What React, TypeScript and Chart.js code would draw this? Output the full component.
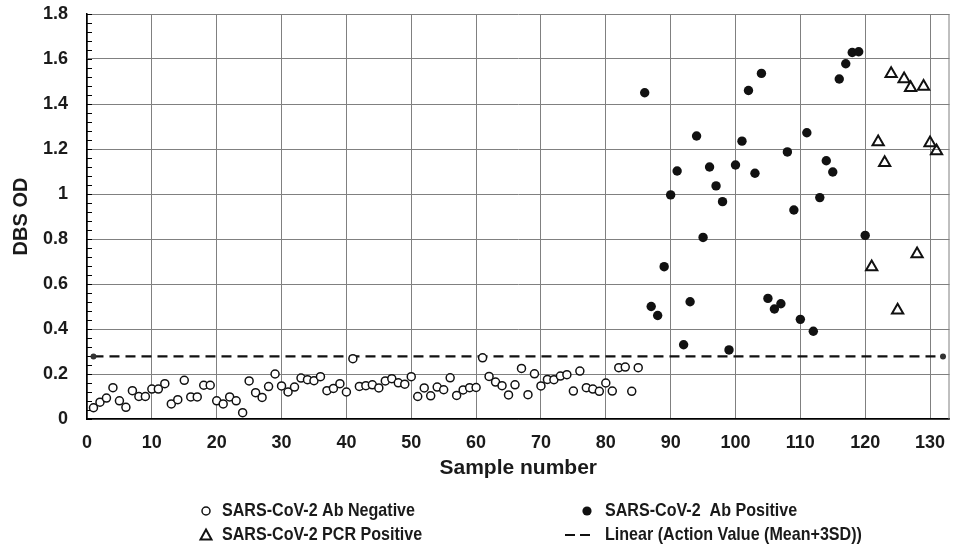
import React, { useEffect, useRef } from 'react';
import { Chart, registerables } from 'chart.js';
Chart.register(...registerables);

// Sample numbers start at these values (index-based, one sample per step)
const NEG_START = 1;
const POS_START = 86;
const PCR_START = 121;

const abNegative = [
  0.05, 0.075, 0.093, 0.139, 0.081, 0.052, 0.126, 0.1, 0.1, 0.133,
  0.133, 0.157, 0.067, 0.086, 0.172, 0.098, 0.098, 0.15, 0.15, 0.081,
  0.067, 0.098, 0.081, 0.028, 0.169, 0.117, 0.096, 0.144, 0.2, 0.147,
  0.12, 0.142, 0.182, 0.175, 0.17, 0.188, 0.126, 0.136, 0.157, 0.12,
  0.268, 0.145, 0.148, 0.152, 0.138, 0.169, 0.179, 0.161, 0.155, 0.188,
  0.1, 0.138, 0.103, 0.142, 0.13, 0.183, 0.105, 0.129, 0.139, 0.14,
  0.272, 0.189, 0.164, 0.148, 0.107, 0.152, 0.225, 0.108, 0.201, 0.147,
  0.176, 0.175, 0.191, 0.197, 0.124, 0.213, 0.139, 0.133, 0.123, 0.16,
  0.124, 0.228, 0.231, 0.123, 0.228,
];

const abPositive = [
  1.45, 0.5, 0.46, 0.677, 0.996, 1.102, 0.33, 0.521, 1.258, 0.807,
  1.12, 1.036, 0.966, 0.307, 1.129, 1.235, 1.46, 1.092, 1.536, 0.536,
  0.489, 0.512, 1.187, 0.929, 0.443, 1.272, 0.39, 0.984, 1.148, 1.098,
  1.511, 1.579, 1.629, 1.632, 0.816,
];

const pcrPositive = [
  0.676, 1.231, 1.139, 1.535, 0.483, 1.511, 1.472, 0.733, 1.478, 1.227, 1.191,
];

const actionX = [1, 132];
const actionY = [0.278, 0.278];

const labels = [
  'SARS-CoV-2 Ab Negative',
  'SARS-CoV-2  Ab Positive',
  'SARS-CoV-2 PCR Positive',
  'Linear (Action Value (Mean+3SD))',
];

const xTickValues = [0, 10, 20, 30, 40, 50, 60, 70, 80, 90, 100, 110, 120, 130];

const TEXT = '#1a1a1a';
const GRID = '#808080';
const FONT = "'Liberation Sans', Arial, sans-serif";
const LEGEND_FONT = "bold 19px 'Liberation Sans', Arial, sans-serif";

function toPoints(start: number, vals: number[]) {
  return vals.map((v, i) => ({ x: start + i, y: v }));
}

const extrasPlugin = {
  id: 'extras',
  beforeDatasetsDraw(chart: any) {
    const { ctx, chartArea, scales } = chart;
    ctx.save();
    // right border
    ctx.strokeStyle = GRID;
    ctx.lineWidth = 1;
    ctx.beginPath();
    ctx.moveTo(chartArea.right - 0.5, chartArea.top);
    ctx.lineTo(chartArea.right - 0.5, chartArea.bottom);
    ctx.stroke();
    // minor ticks on y axis
    ctx.strokeStyle = '#000';
    ctx.lineWidth = 1;
    for (let k = 0; k <= 45; k++) {
      const y = Math.round(scales.y.getPixelForValue(k * 0.04)) + 0.5;
      ctx.beginPath();
      ctx.moveTo(chartArea.left, y);
      ctx.lineTo(chartArea.left + 5, y);
      ctx.stroke();
    }
    ctx.restore();
  },
  afterDraw(chart: any) {
    const { ctx } = chart;
    ctx.save();
    ctx.font = LEGEND_FONT;
    ctx.textBaseline = 'middle';
    ctx.textAlign = 'left';
    const r1 = 511;
    const r2 = 535;
    const c1m = 206, c1t = 222, c2m = 587, c2t = 605;
    // open circle
    ctx.strokeStyle = '#111';
    ctx.lineWidth = 1.5;
    ctx.fillStyle = '#fff';
    ctx.beginPath();
    ctx.arc(c1m, r1, 4, 0, Math.PI * 2);
    ctx.fill();
    ctx.stroke();
    // triangle
    ctx.lineWidth = 2;
    ctx.beginPath();
    ctx.moveTo(c1m, r2 - 5.5);
    ctx.lineTo(c1m + 5.5, r2 + 4.5);
    ctx.lineTo(c1m - 5.5, r2 + 4.5);
    ctx.closePath();
    ctx.stroke();
    // filled circle
    ctx.fillStyle = '#111';
    ctx.beginPath();
    ctx.arc(c2m, r1, 4.6, 0, Math.PI * 2);
    ctx.fill();
    // dashes
    ctx.strokeStyle = '#111';
    ctx.lineWidth = 2.2;
    ctx.beginPath();
    ctx.moveTo(565, r2);
    ctx.lineTo(575, r2);
    ctx.moveTo(580, r2);
    ctx.lineTo(590, r2);
    ctx.stroke();
    // text, horizontally fitted to the reference's condensed legend font
    ctx.fillStyle = TEXT;
    const ds = chart.data.datasets;
    const sx = 193 / ctx.measureText(ds[0].label).width;
    const put = (txt: string, x: number, y: number) => {
      ctx.save();
      ctx.translate(x, y);
      ctx.scale(sx, 1);
      ctx.fillText(txt, 0, 0);
      ctx.restore();
    };
    put(ds[0].label, c1t, r1);
    put(ds[2].label, c1t, r2);
    put(ds[1].label, c2t, r1);
    put(ds[3].label, c2t, r2);
    ctx.restore();
  },
};

export default function App() {
  const ref = useRef<HTMLCanvasElement>(null);
  useEffect(() => {
    const chart = new Chart(ref.current as HTMLCanvasElement, {
      type: 'scatter',
      data: {
        datasets: [
          {
            label: labels[0],
            data: toPoints(NEG_START, abNegative),
            pointStyle: 'circle',
            pointRadius: 4,
            borderWidth: 1.5,
            borderColor: '#111',
            backgroundColor: '#fff',
          },
          {
            label: labels[1],
            data: toPoints(POS_START, abPositive),
            pointStyle: 'circle',
            pointRadius: 4.7,
            borderWidth: 0,
            borderColor: '#111',
            backgroundColor: '#111',
          },
          {
            label: labels[2],
            data: toPoints(PCR_START, pcrPositive),
            pointStyle: 'triangle',
            pointRadius: 6.5,
            borderWidth: 2,
            borderColor: '#111',
            backgroundColor: 'rgba(255,255,255,0)',
          },
          {
            type: 'line',
            label: labels[3],
            data: actionX.map((x, i) => ({ x, y: actionY[i] })),
            showLine: true,
            borderColor: '#111',
            borderWidth: 2.2,
            borderDash: [10, 6],
            pointRadius: 3,
            pointBackgroundColor: '#333',
            pointBorderWidth: 0,
            fill: false,
          } as any,
        ],
      },
      options: {
        animation: false,
        responsive: false,
        devicePixelRatio: 1,
        layout: { padding: { top: 14, right: 1, bottom: 58, left: 0 } },
        plugins: {
          legend: { display: false },
          tooltip: { enabled: false },
        },
        scales: {
          x: {
            type: 'linear',
            min: 0,
            max: 133,
            afterFit: (s: any) => {
              s.height = 70;
              s.paddingLeft = 0;
              s.paddingRight = 0;
            },
            afterBuildTicks: (s: any) => {
              s.ticks = xTickValues.map((v) => ({ value: v }));
            },
            ticks: {
              padding: 13,
              color: TEXT,
              maxRotation: 0,
              autoSkip: false,
              font: { family: FONT, size: 18, weight: 'bold' },
            },
            grid: { color: GRID, lineWidth: 1, drawTicks: false },
            border: { display: true, color: '#000', width: 1.5 },
            title: {
              display: true,
              text: 'Sample number',
              color: TEXT,
              font: { family: FONT, size: 21, weight: 'bold' },
              padding: { top: 0, bottom: 8 },
            },
          },
          y: {
            type: 'linear',
            min: 0,
            max: 1.8,
            afterFit: (s: any) => {
              s.width = 87;
              s.paddingTop = 0;
              s.paddingBottom = 0;
            },
            ticks: {
              stepSize: 0.2,
              padding: 19,
              color: TEXT,
              font: { family: FONT, size: 18, weight: 'bold' },
              callback: (v: any) => String(Math.round(Number(v) * 10) / 10),
            },
            grid: { color: GRID, lineWidth: 1, drawTicks: false },
            border: { display: true, color: '#000', width: 1.5 },
            title: {
              display: true,
              text: 'DBS OD',
              color: TEXT,
              font: { family: FONT, size: 20, weight: 'bold' },
              padding: { top: 9, bottom: 0 },
            },
          },
        },
      } as any,
      plugins: [extrasPlugin],
    });
    return () => chart.destroy();
  }, []);
  return (
    <div style={{ position: 'fixed', left: 0, top: 0, width: 958, height: 547, background: '#fff' }}>
      <canvas ref={ref} width={958} height={547} style={{ display: 'block', width: 958, height: 547 }} />
    </div>
  );
}
